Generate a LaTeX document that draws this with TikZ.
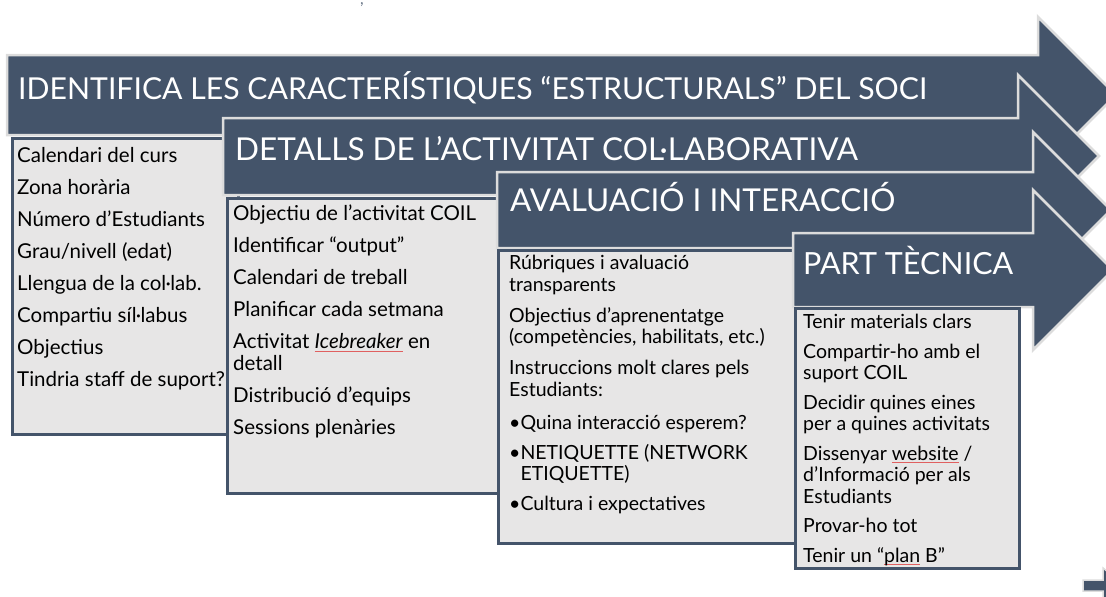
\documentclass[tikz,border=0pt]{standalone}
\usepackage{fontspec}
\setmainfont{Lato}
\usetikzlibrary{positioning}
\definecolor{slate}{HTML}{44546A}
\definecolor{panel}{HTML}{E7E6E6}
\definecolor{rim}{HTML}{DCDCDC}
\definecolor{typo}{HTML}{E06060}
\newcommand{\spellmark}[1]{{\setbox0\hbox{#1}\rlap{\textcolor{typo}{\rule[-2.5pt]{\wd0}{0.7pt}}}\box0}}

\begin{document}
\begin{tikzpicture}[x=1pt,y=-1pt,
  arrowshape/.style={fill=slate,draw=rim,line width=2.5pt,line join=miter},
  panelbox/.style={fill=panel,draw=slate,line width=2.5pt,anchor=north west,inner sep=0pt},
  headtext/.style={anchor=base west,text=white,inner sep=0pt,font=\fontsize{30.5}{36}\selectfont},
  itemtext/.style={align=left,inner sep=0pt,font=\fontsize{20.5}{22}\selectfont}]
\useasboundingbox (0,0) rectangle (1106,597);
\clip (0,0) rectangle (1106,597);

\node[text=slate!80,inner sep=0pt,font=\fontsize{16}{16}\selectfont] (comma) at (362,5) {,};

% stage 1
\draw[arrowshape] (7,55) -- (1038,55) -- (1038,17) -- (1116,95) -- (1038,173) -- (1038,135) -- (7,135) -- cycle;
\node[headtext,font=\fontsize{30.2}{36}\selectfont] (soci) at (18,99) {IDENTIFICA LES CARACTERÍSTIQUES “ESTRUCTURALS” DEL SOCI};
\node[panelbox,minimum width=226pt,minimum height=296pt] (socibox) at (11,137) {};
\node[itemtext,below right=10pt and 6pt of socibox.north west] (socilist) {%
Calendari del curs\\[10pt]
Zona horària\\[10pt]
Número d’Estudiants\\[10pt]
Grau/nivell (edat)\\[10pt]
Llengua de la col·lab.\\[10pt]
Compartiu síl·labus\\[10pt]
Objectius\\[10pt]
Tindria staff de suport?};

% stage 2
\draw[arrowshape] (223,118) -- (1018,118) -- (1018,75) -- (1099,156) -- (1018,237) -- (1018,195) -- (223,195) -- cycle;
\node[headtext,font=\fontsize{31.5}{36}\selectfont] (detalls) at (235,160) {DETALLS DE L’ACTIVITAT COL·LABORATIVA};
\node[panelbox,minimum width=271pt,minimum height=295pt] (detallsbox) at (226,197) {};
\node[itemtext,below right=8pt and 7pt of detallsbox.north west] (detallslist) {%
Objectiu de l’activitat COIL\\[10pt]
Identificar “output”\\[10pt]
Calendari de treball\\[10pt]
Planificar cada setmana\\[10pt]
Activitat \spellmark{\textit{Icebreaker}} en\\
detall\\[10pt]
Distribució d’equips\\[10pt]
Sessions plenàries};

% stage 3
\draw[arrowshape] (497,172) -- (1033,172) -- (1033,132) -- (1111,210) -- (1033,288) -- (1033,248) -- (497,248) -- cycle;
\node[headtext,font=\fontsize{31.5}{36}\selectfont] (avalua) at (510,211) {AVALUACIÓ I INTERACCIÓ};
\node[panelbox,minimum width=302pt,minimum height=293pt] (avaluabox) at (497,249) {};
\node[itemtext,font=\fontsize{19.5}{21.5}\selectfont,below right=6pt and 12pt of avaluabox.north west] (avaluallist) {%
Rúbriques i avaluació\\
transparents\\[9.5pt]
Objectius d’aprenentatge\\
(competències, habilitats, etc.)\\[9.5pt]
Instruccions molt clares pels\\
Estudiants:\\[11.5pt]
•Quina interacció esperem?\\[8.5pt]
•NETIQUETTE (NETWORK\\
\hphantom{•}ETIQUETTE)\\[8.5pt]
•Cultura i expectatives};

% stage 4
\draw[arrowshape] (793,233) -- (1033,233) -- (1033,190) -- (1113,270) -- (1033,350) -- (1033,307) -- (793,307) -- cycle;
\node[headtext] (tecnica) at (803,274) {PART TÈCNICA};
\node[panelbox,minimum width=224pt,minimum height=260pt] (tecnicabox) at (794,307) {};
\node[itemtext,font=\fontsize{19.5}{21.5}\selectfont,below right=7pt and 9pt of tecnicabox.north west] (tecnicalist) {%
Tenir materials clars\\[8pt]
Compartir-ho amb el\\
suport COIL\\[8pt]
Decidir quines eines\\
per a quines activitats\\[8pt]
Dissenyar \spellmark{website} /\\
d’Informació per als\\
Estudiants\\[8pt]
Provar-ho tot\\[8pt]
Tenir un “\spellmark{plan} B”};

% next step, cut off at the corner
\draw[arrowshape,line width=1.5pt] (1083,580) -- (1103,580) -- (1103,568) -- (1125,586) -- (1103,604) -- (1103,591) -- (1083,591) -- cycle;
\end{tikzpicture}
\end{document}
